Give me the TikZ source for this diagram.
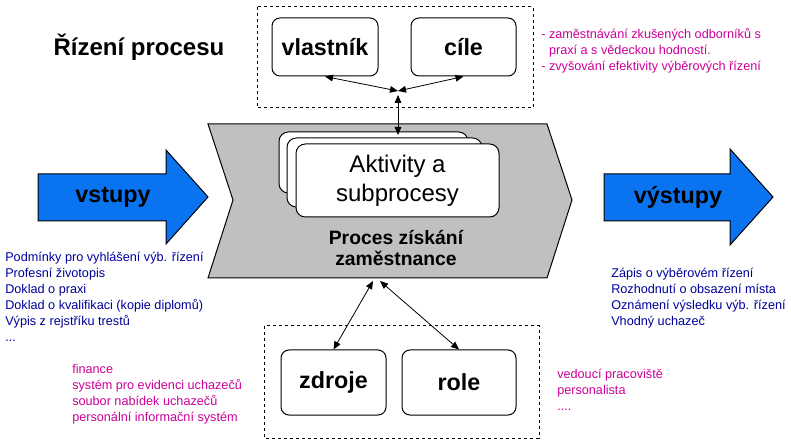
\documentclass[tikz,border=0pt]{standalone}
\usepackage{fontspec}
\setmainfont{Liberation Sans}
\usetikzlibrary{arrows.meta}

\definecolor{arrowblue}{RGB}{10,116,240}
\definecolor{procgray}{RGB}{192,192,192}
\definecolor{navytext}{RGB}{0,0,153}
\definecolor{magtext}{RGB}{204,0,153}

\begin{document}
\begin{tikzpicture}[x=0.75pt,y=-0.75pt,
    box/.style={draw,rounded corners=6pt,line width=0.75pt,fill=white,font=\fontsize{17.5}{20}\selectfont\bfseries},
    actbox/.style={draw,rounded corners=7pt,line width=0.75pt,fill=white},
    frame/.style={line width=0.75pt,dash pattern=on 2.5pt off 2pt},
    link/.style={line width=0.6pt,{Triangle[length=6pt,width=5pt]}-{Triangle[length=6pt,width=5pt]}},
    note/.style={anchor=north west,inner sep=0pt,align=left,font=\fontsize{9.5}{12}\selectfont},
    bigarrow/.style={draw,line width=0.75pt,fill=arrowblue}]
    \useasboundingbox (0,0) rectangle (791,448);

    \node (title) at (139,47) [font=\fontsize{18}{20}\selectfont\bfseries] {Řízení procesu};

    % dashed frames
    \draw[frame] (257,7) rectangle (533,108);
    \draw[frame] (264,326) rectangle (539,438);

    % process chevron
    \draw[fill=procgray,line width=0.75pt] (208,124) -- (547,124) -- (572,200) -- (547,278) -- (208,278) -- (233,200) -- cycle;

    \node (act1) at (373.5,162.5) [actbox,minimum width=141.75pt,minimum height=45.75pt] {};
    \node (act2) at (384.5,172.5) [actbox,minimum width=146.25pt,minimum height=51.75pt] {};
    \node (act3) at (397.5,180.5) [actbox,minimum width=152.25pt,minimum height=54.75pt,align=center,font=\fontsize{18}{21.75}\selectfont] {Aktivity a\\subprocesy};
    \node (proces) at (396,248) [align=center,font=\fontsize{14.5}{15.75}\selectfont\bfseries] {Proces získání\\zaměstnance};

    \node (vlastnik) at (325,47) [box,minimum width=79.5pt,minimum height=43.5pt] {vlastník};
    \node (cile) at (463.5,47) [box,minimum width=78.75pt,minimum height=43.5pt] {cíle};
    \node (zdroje) at (333.5,382.5) [box,minimum width=78.75pt,minimum height=48.75pt] {zdroje};
    \node (role) at (459,382.5) [box,minimum width=85.5pt,minimum height=48.75pt] {role};

    \coordinate (hub) at (398,91);
    \coordinate (hubdown) at (398,95);
    \coordinate (acttop) at (398,135);
    \coordinate (procl) at (373,281);
    \coordinate (procr) at (380,281);

    \draw[link] (vlastnik.south) -- (hub);
    \draw[link] (cile.south) -- (hub);
    \draw[link] (hubdown) -- (acttop);
    \draw[link] (zdroje.north) -- (procl);
    \draw[link] (role.north) -- (procr);

    % inputs and outputs
    \draw[bigarrow] (38,174) -- (166,174) -- (166,150) -- (208,197) -- (166,244) -- (166,221) -- (38,221) -- cycle;
    \node (vstupy) at (113,197) [font=\fontsize{17.5}{20}\selectfont\bfseries] {vstupy};
    \draw[bigarrow] (604,174) -- (730,174) -- (730,149) -- (773,197) -- (730,245) -- (730,221) -- (604,221) -- cycle;
    \node (vystupy) at (678,197) [font=\fontsize{17.5}{20}\selectfont\bfseries] {výstupy};

    \node (inputs) at (5,251.5) [note,text=navytext] {Podmínky pro vyhlášení výb. řízení\\Profesní životopis\\Doklad o praxi\\Doklad o kvalifikaci (kopie diplomů)\\Výpis z rejstříku trestů\\...};
    \node (outputs) at (611,267.5) [note,text=navytext] {Zápis o výběrovém řízení\\Rozhodnutí o obsazení místa\\Oznámení výsledku výb. řízení\\Vhodný uchazeč};

    \node (goals) at (541,28.5) [note,text=magtext] {- zaměstnávání zkušených odborníků s\\\hphantom{- }praxí a s vědeckou hodností.\\- zvyšování efektivity výběrových řízení};
    \node (resources) at (72,364.5) [note,text=magtext] {finance\\systém pro evidenci uchazečů\\soubor nabídek uchazečů\\personální informační systém};
    \node (roles) at (557,369) [note,text=magtext] {vedoucí pracoviště\\personalista\\....};
\end{tikzpicture}
\end{document}
